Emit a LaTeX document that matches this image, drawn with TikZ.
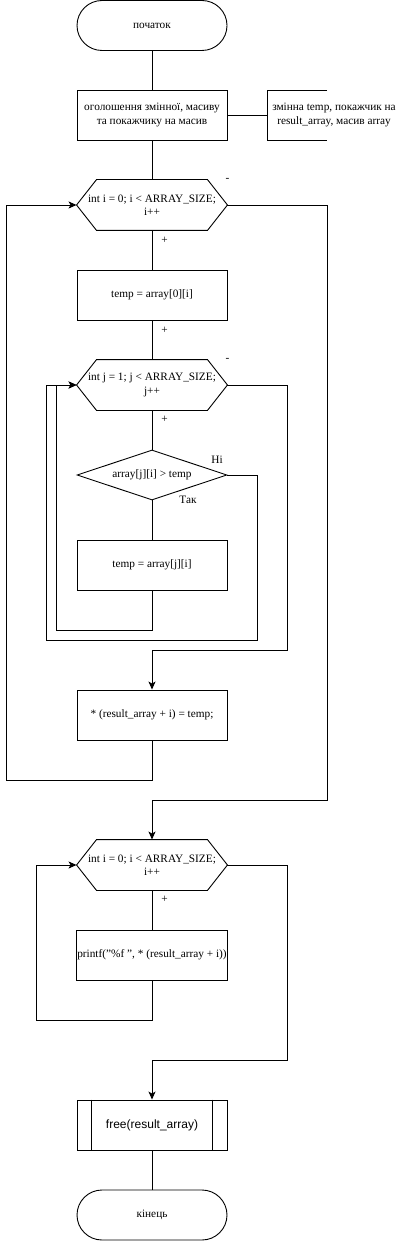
\documentclass[tikz,border=0pt]{standalone}
\usepackage{fontspec}
\setmainfont{Liberation Serif}
\setsansfont{Liberation Sans}
\usetikzlibrary{arrows.meta,shapes.geometric}
\tikzset{
    every node/.style={font=\fontsize{11.3}{13.5}\selectfont},
    terminal/.style={draw,rounded corners=25pt,minimum width=150pt,minimum height=50pt,inner sep=1pt},
    process/.style={draw,minimum width=150pt,minimum height=50pt,inner sep=1pt,align=center},
    loopbox/.style={minimum width=150pt,minimum height=50pt,inner sep=1pt,align=center},
    decision/.style={draw,diamond,aspect=3,minimum width=150pt,minimum height=50pt,inner sep=0pt},
    branch/.style={inner sep=1pt},
}
\newcommand{\hexframe}[1]{\draw (#1.west) -- ([xshift=20pt]#1.north west) -- ([xshift=-20pt]#1.north east) -- (#1.east) -- ([xshift=-20pt]#1.south east) -- ([xshift=20pt]#1.south west) -- cycle;}
\begin{document}
\begin{tikzpicture}[x=1pt,y=-1pt,line width=0.9pt,>={Stealth[length=8pt,width=7pt,inset=2pt]}]
    \useasboundingbox (0,0) rectangle (408,1241);
        %Blocks
            \node[terminal] (start) at (152,25.5) {початок};
            \node[process] (decl) at (152,115) {оголошення змінної, масиву\\та покажчику на масив};
            \node[loopbox] (loopi) at (152,205) {int i = 0; i < ARRAY\_SIZE;\\i++};
            \hexframe{loopi}
            \node[process] (tmpzero) at (152,295) {temp = array[0][i]};
            \node[loopbox] (loopj) at (152,385) {int j = 1; j < ARRAY\_SIZE;\\j++};
            \hexframe{loopj}
            \node[decision] (cond) at (152,475) {array[j][i] > temp};
            \node[process] (tmpj) at (152,565) {temp = array[j][i]};
            \node[process] (store) at (152,715) {* (result\_array + i) = temp;};
            \node[loopbox] (loopout) at (152,865) {int i = 0; i < ARRAY\_SIZE;\\i++};
            \hexframe{loopout}
            \node[process] (print) at (152,955) {printf("\%f ", * (result\_array + i))};
            \node[process,font=\sffamily\fontsize{12}{14}\selectfont] (free) at (152,1125) {free(result\_array)};
            \draw ([xshift=15pt]free.north west) -- ([xshift=15pt]free.south west);
            \draw ([xshift=-15pt]free.north east) -- ([xshift=-15pt]free.south east);
            \node[terminal] (finish) at (152,1215) {кінець};
        %Comment
            \coordinate (notebar) at (267,115);
            \draw (decl.east) -- (notebar);
            \draw ([shift={(60,-25)}]notebar) -- ++(-60,0) -- ++(0,50) -- ++(60,0);
            \node[align=center] (note) at (334,115) {змінна temp, покажчик на\\result\_array, масив array};
        %Straight flow
            \draw (start) -- (decl);
            \draw (decl) -- (loopi);
            \draw (loopi) -- (tmpzero) node[pos=0.25,right,xshift=8pt,branch]{+};
            \draw (tmpzero) -- (loopj) node[pos=0.25,right,xshift=8pt,branch]{+};
            \draw (loopj) -- (cond) node[pos=0.23,right,xshift=8pt,branch]{+};
            \draw (cond) -- (tmpj);
            \draw (loopout) -- (print) node[pos=0.23,right,xshift=8pt,branch]{+};
            \draw (free) -- (finish);
        %Branch labels
            \node[branch] (yes) at (188,500) {Так};
            \node[branch] (no) at (217,460) {Ні};
            \node[branch] (exiti) at (loopi.north east) {-};
            \node[branch] (exitj) at (loopj.north east) {-};
        %Inner loop
            \draw[->] (tmpj.south) -- ++(0,40) -| ([xshift=-20pt]loopj.west) -- (loopj.west);
            \draw[->] (cond.east) -- ++(30,0) -- ++(0,165) -| ([xshift=-30pt]loopj.west) -- (loopj.west);
            \draw[->] (loopj.east) -- ++(60,0) -- ++(0,265) -| (store.north);
        %Outer loop
            \draw[->] (store.south) -- ++(0,40) -| ([xshift=-70pt]loopi.west) -- (loopi.west);
            \draw[->] (loopi.east) -- ++(100,0) -- ++(0,595) -| (loopout.north);
        %Output loop
            \draw[->] (print.south) -- ++(0,40) -| ([xshift=-40pt]loopout.west) -- (loopout.west);
            \draw[->] (loopout.east) -- ++(60,0) -- ++(0,195) -| (free.north);
    \end{tikzpicture}
\end{document}
